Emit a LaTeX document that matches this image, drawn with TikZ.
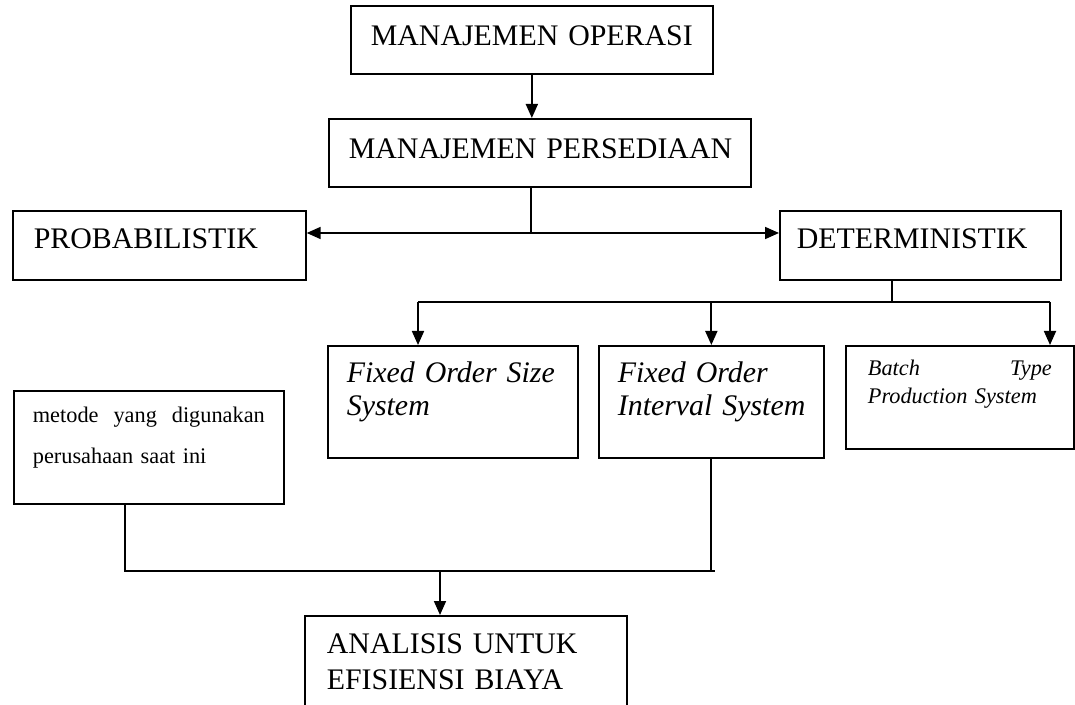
\documentclass[tikz,border=0pt]{standalone}
\usepackage{fontspec}
\setmainfont{Liberation Serif}
\usepackage{tikz}
\usetikzlibrary{arrows.meta, positioning}

\newcommand{\largefont}{\fontsize{17}{18.8}\selectfont}
\newcommand{\smallfont}{\fontsize{12.7}{15.9}\selectfont}

\begin{document}
\begin{tikzpicture}[
    x=0.02cm, y=-0.02cm,
    box/.style={draw, line width=1pt, anchor=north west, align=left,
                inner ysep=0pt, inner xsep=0.4cm, font=\largefont},
    arr/.style={line width=1pt, -{Triangle[length=0.28cm, width=0.24cm]}},
    conn/.style={line width=1pt},
]
  \useasboundingbox (0,0) rectangle (1075,705);
  \clip (0,0) rectangle (1075,705);

  % top chain
  \node[box, text width=6.44cm, text height=0.8cm, text depth=0.56cm]
        (ops) at (350,5) {\mbox{MANAJEMEN OPERASI}};
  \node[box, text width=7.64cm, text height=0.8cm, text depth=0.56cm]
        (pers) at (328,118) {\mbox{MANAJEMEN PERSEDIAAN}};

  % two kinds
  \node[box, inner xsep=0.42cm, text width=5.02cm, text height=0.76cm, text depth=0.62cm]
        (prob) at (12,210) {\mbox{PROBABILISTIK}};
  \node[box, inner xsep=0.34cm, text width=4.94cm, text height=0.76cm, text depth=0.62cm]
        (det) at (779,210) {\mbox{DETERMINISTIK}};

  % deterministic systems
  \node[box, inner xsep=0.38cm, text width=4.24cm, text height=0.74cm, text depth=1.5cm,
        font=\largefont\itshape]
        (foss) at (327,345) {\mbox{Fixed Order Size}\\System};
  \node[box, inner xsep=0.38cm, text width=3.74cm, text height=0.74cm, text depth=1.5cm,
        font=\largefont\itshape]
        (fois) at (598,345) {\mbox{Fixed Order}\\\mbox{Interval System}};
  \node[box, inner xsep=0.44cm, text width=3.68cm, text height=0.6cm, text depth=1.46cm,
        font=\smallfont\itshape]
        (batch) at (845,345) {Batch\hfill Type\\\mbox{Production System}};

  % current method and result
  \node[box, inner xsep=0.38cm, text width=4.64cm, text height=0.64cm, text depth=1.62cm,
        font=\fontsize{12.7}{23.3}\selectfont]
        (metode) at (13,390) {metode\hfill yang\hfill digunakan\\\mbox{perusahaan saat ini}};
  \node[box, inner xsep=0.44cm, text width=5.56cm, text height=0.76cm, text depth=2.4cm,
        font=\fontsize{17}{20.5}\selectfont]
        (anal) at (304,615) {\mbox{ANALISIS UNTUK}\\\mbox{EFISIENSI BIAYA}};

  % connectors
  \coordinate (split) at (531,233);
  \coordinate (splitend) at (600,233);
  \coordinate (dsplit) at (892,302);
  \coordinate (dl) at (418,302);
  \coordinate (dr) at (1050,302);
  \coordinate (ml) at (125,571);
  \coordinate (mr) at (715,571);
  \coordinate (mj) at (440,571);

  \draw[arr] (ops.south) -- (ops.south |- pers.north);
  \draw[conn] (split |- pers.south) -- (split);
  \draw[line width=1.6pt] (split) -- (splitend);
  \draw[arr] (split) -- (split -| prob.east);
  \draw[arr] (split) -- (split -| det.west);

  \draw[conn] (dsplit |- det.south) -- (dsplit);
  \draw[conn] (dl) -- (dr);
  \draw[arr] (dl) -- (dl |- foss.north);
  \draw[arr] (fois.north |- dl) -- (fois.north);
  \draw[arr] (dr) -- (dr |- batch.north);

  \draw[conn] (ml |- metode.south) -- (ml) -- (mr);
  \draw[conn] (fois.south) -- (fois.south |- mr);
  \draw[arr] (mj) -- (mj |- anal.north);
\end{tikzpicture}
\end{document}
